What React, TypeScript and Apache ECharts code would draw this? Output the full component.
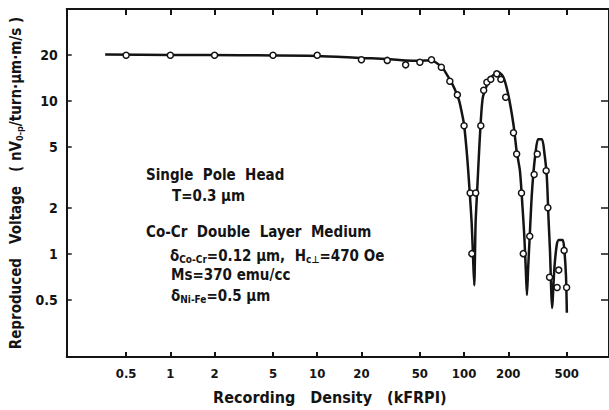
import React, { useEffect, useRef } from "react";
import * as echarts from "echarts";

// Tick values (kFRPI and voltage)
const xTicks = [0.5, 1, 2, 5, 10, 20, 50, 100, 200, 500];
const yTicksLeft = [0.5, 1, 2, 5, 10, 20];
const yTicksRight = [0.5, 1, 2, 5, 10];

// Measured points (open circles): [recording density kFRPI, reproduced voltage]
const measuredDensity = [
  0.5, 1, 2, 5, 10, 20, 30, 40, 50, 60, 70, 80, 90, 100, 110, 113, 120, 130, 136, 143, 152, 167,
  178, 192, 217, 228, 246, 253, 280, 300, 315, 362, 372, 382, 430, 441, 480, 499,
];
const measuredVoltage = [
  20, 20, 20, 20, 20, 18.7, 18.5, 17.3, 18.0, 18.7, 16.7, 13.5, 11.0, 6.9, 2.5, 1.0, 2.5, 6.9, 11.8,
  13.3, 13.9, 15.1, 13.9, 10.6, 6.2, 4.5, 2.5, 1.0, 1.3, 3.3, 4.5, 3.5, 2.0, 0.7, 0.6, 0.78, 1.05, 0.6,
];

// Drawn curve through the data
const curveDensity = [
  0.36, 1, 3, 10, 20, 30, 40, 50, 58, 64, 72, 79, 84, 88, 93, 97, 100, 105, 109, 112.6, 115, 117.3,
  119.8, 122.8, 126, 129.5, 134, 143, 152, 163, 172, 185, 200, 217, 228, 240, 249, 257, 263, 268,
  273, 280, 287, 295, 306, 319, 339, 353, 366, 376, 385, 391, 397, 412, 427, 441, 469, 481, 494, 501,
];
const curveVoltage = [
  20.2, 20.1, 20, 19.8, 19.2, 18.9, 18.5, 18.4, 18.5, 18.0, 16.3, 14.1, 12.7, 11.5, 9.9, 8.2, 7.0,
  4.3, 2.6, 1.6, 0.97, 0.62, 1.59, 2.6, 4.3, 7.0, 10.5, 12.7, 14.2, 15.2, 15.4, 14.4, 11.0, 7.0, 4.7,
  3.5, 2.14, 1.31, 0.8, 0.536, 0.8, 1.31, 2.14, 3.19, 4.5, 5.63, 5.63, 4.5, 3.19, 1.67, 1.02, 0.62,
  0.44, 0.8, 1.13, 1.23, 1.23, 1.07, 0.72, 0.41,
];

const FONT = "'DejaVu Sans Condensed', 'Liberation Sans Narrow', 'DejaVu Sans', sans-serif";
const INK = "#141414";

const fmt = (v: number) => String(+Number(v).toPrecision(3));

export default function App() {
  const ref = useRef<HTMLDivElement>(null);

  useEffect(() => {
    if (!ref.current) return;
    const chart = echarts.init(ref.current, null, { renderer: "svg" });

    const curve = curveDensity.map((x, i) => [x, curveVoltage[i]]);
    const points = measuredDensity.map((x, i) => [x, measuredVoltage[i]]);

    const sub = { fontSize: 10, fontFamily: FONT, fontWeight: "bold", fill: INK, verticalAlign: "bottom", lineHeight: 18 };
    const base = { fontSize: 15, fontFamily: FONT, fontWeight: "bold", fill: INK, lineHeight: 18 };

    const annot = (text: string, x: number, y: number) => ({
      type: "text",
      left: x,
      top: y - 9,
      z: 10,
      style: {
        text,
        fill: INK,
        font: `bold 15px ${FONT}`,
        rich: { a: base, s: sub },
      },
    });

    const option: any = {
      animation: false,
      backgroundColor: "#ffffff",
      grid: { left: 62, right: -3, top: 9, bottom: 47 },
      xAxis: [
        {
          type: "log",
          min: 0.197,
          max: 970,
          position: "bottom",
          name: "Recording   Density   (kFRPI)",
          nameLocation: "middle",
          nameGap: 32,
          nameTextStyle: { fontFamily: FONT, fontWeight: "bold", fontSize: 16, color: INK, padding: [0, 16, 0, 0] },
          axisLine: { show: true, lineStyle: { color: INK, width: 2 } },
          axisTick: { show: true, inside: true, length: 5, lineStyle: { color: INK, width: 2 }, customValues: xTicks },
          axisLabel: {
            show: true,
            margin: 10,
            customValues: xTicks,
            formatter: fmt,
            fontFamily: FONT,
            fontWeight: "bold",
            fontSize: 13,
            color: INK,
          },
          splitLine: { show: false },
          minorTick: { show: false },
        },
        {
          type: "log",
          min: 0.197,
          max: 970,
          position: "top",
          axisLine: { show: true, lineStyle: { color: INK, width: 2 } },
          axisTick: { show: true, inside: true, length: 6, lineStyle: { color: INK, width: 2 }, customValues: xTicks },
          axisLabel: { show: false },
          splitLine: { show: false },
        },
      ],
      yAxis: [
        {
          type: "log",
          min: 0.21,
          max: 40.2,
          position: "left",
          name: "{a|Reproduced   Voltage   ( nV}{s|0-p}{a|/turn·μm·m/s )}",
          nameLocation: "middle",
          nameGap: 42,
          nameTextStyle: {
            fontFamily: FONT,
            fontWeight: "bold",
            fontSize: 15,
            color: INK,
            rich: {
              a: { fontFamily: FONT, fontWeight: "bold", fontSize: 15, color: INK, lineHeight: 18 },
              s: { fontFamily: FONT, fontWeight: "bold", fontSize: 9, color: INK, lineHeight: 18, verticalAlign: "bottom" },
            },
          },
          axisLine: { show: true, lineStyle: { color: INK, width: 2 } },
          axisTick: { show: true, inside: true, length: 5, lineStyle: { color: INK, width: 1.5 }, customValues: yTicksLeft },
          axisLabel: {
            show: true,
            margin: 9,
            customValues: yTicksLeft,
            formatter: fmt,
            fontFamily: FONT,
            fontWeight: "bold",
            fontSize: 14,
            color: INK,
          },
          splitLine: { show: false },
        },
        {
          type: "log",
          min: 0.21,
          max: 40.2,
          position: "right",
          axisLine: { show: true, lineStyle: { color: INK, width: 2 } },
          axisTick: { show: true, inside: true, length: 8, lineStyle: { color: INK, width: 1.5 }, customValues: yTicksRight },
          axisLabel: { show: false },
          splitLine: { show: false },
        },
      ],
      series: [
        {
          type: "line",
          xAxisIndex: 0,
          yAxisIndex: 0,
          data: curve,
          showSymbol: false,
          smooth: 0.25,
          lineStyle: { color: INK, width: 2.5 },
          z: 2,
        },
        {
          type: "scatter",
          xAxisIndex: 0,
          yAxisIndex: 0,
          data: points,
          symbol: "circle",
          symbolSize: 6,
          itemStyle: { color: "#ffffff", borderColor: INK, borderWidth: 1.5, opacity: 1 },
          z: 3,
        },
      ],
      graphic: [
        annot("{a|Single  Pole  Head}", 146, 176),
        annot("{a|T=0.3 μm}", 172, 197),
        annot("{a|Co-Cr  Double  Layer  Medium}", 146, 233),
        annot("{a|δ}{s|Co-Cr}{a|=0.12 μm,  H}{s|c⊥}{a|=470 Oe}", 170, 257),
        annot("{a|Ms=370 emu/cc}", 171, 276),
        annot("{a|δ}{s|Ni-Fe}{a|=0.5 μm}", 171, 297),
      ],
    };

    chart.setOption(option);
    return () => chart.dispose();
  }, []);

  return (
    <div
      ref={ref}
      style={{ position: "fixed", left: 0, top: 0, width: 609, height: 410, background: "#fff" }}
    />
  );
}
